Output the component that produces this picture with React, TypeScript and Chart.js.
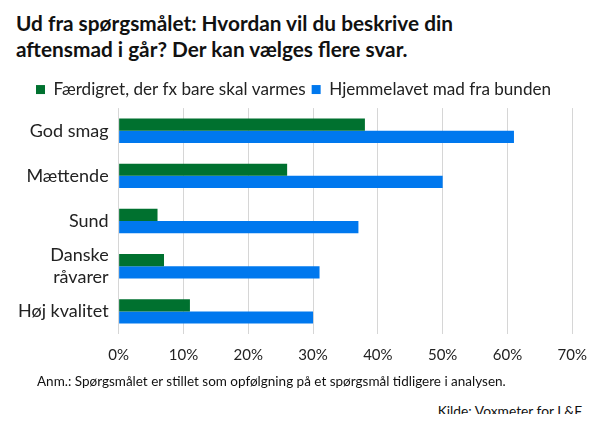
import React, { useEffect, useRef } from 'react';
import { Chart, registerables } from 'chart.js';

Chart.register(...registerables);

const categories: (string | string[])[] = ['God smag', 'Mættende', 'Sund', ['Danske', 'råvarer'], 'Høj kvalitet'];
const seriesNames = ['Færdigret, der fx bare skal varmes', 'Hjemmelavet mad fra bunden'];
const faerdigret = [38, 26, 6, 7, 11];
const hjemmelavet = [61, 50, 37, 31, 30];
const tickValues = [0, 10, 20, 30, 40, 50, 60, 70];

const FONT = 'Lato, "Open Sans", sans-serif';

const App: React.FC = () => {
  const canvasRef = useRef<HTMLCanvasElement>(null);

  useEffect(() => {
    if (!canvasRef.current) return;
    const chart = new Chart(canvasRef.current, {
      type: 'bar',
      data: {
        labels: categories,
        datasets: [
          { label: seriesNames[0], data: faerdigret, backgroundColor: '#00712f', categoryPercentage: 0.54, barPercentage: 1 },
          { label: seriesNames[1], data: hjemmelavet, backgroundColor: '#0078ee', categoryPercentage: 0.54, barPercentage: 1 }
        ]
      },
      options: {
        indexAxis: 'y',
        animation: false,
        responsive: false,
        layout: { padding: { left: 8, right: 20, top: 4, bottom: 0 } },
        plugins: {
          tooltip: { enabled: false },
          legend: {
            position: 'top',
            labels: {
              boxWidth: 9,
              boxHeight: 9,
              padding: 6,
              color: '#222',
              font: { family: FONT, size: 17.1 }
            }
          }
        },
        scales: {
          x: {
            min: 0,
            max: 70,
            afterBuildTicks: axis => { axis.ticks = tickValues.map(v => ({ value: v })); },
            grid: { color: '#d6d6d6', drawTicks: false },
            border: { display: false },
            ticks: { color: '#222', padding: 12, font: { family: FONT, size: 15 }, callback: v => v + '%' }
          },
          y: {
            grid: { display: false, drawTicks: false },
            border: { display: false },
            ticks: { color: '#222', padding: 10, autoSkip: false, font: { family: FONT, size: 18 } }
          }
        }
      }
    });
    return () => chart.destroy();
  }, []);

  return (
    <div style={{ position: 'relative', width: 599, height: 422, background: '#fff', fontFamily: FONT, color: '#111', margin: -8 }}>
      <div style={{ position: 'absolute', left: 16, top: 10, fontWeight: 700, fontSize: 20.8, lineHeight: '26px' }}>
        Ud fra spørgsmålet: Hvordan vil du beskrive din<br />aftensmad i går? Der kan vælges flere svar.
      </div>
      <canvas ref={canvasRef} width={599} height={305} style={{ position: 'absolute', left: 0, top: 71 }} />
      <div style={{ position: 'absolute', left: 37, top: 373, fontSize: 13.5 }}>
        Anm.: Spørgsmålet er stillet som opfølgning på et spørgsmål tidligere i analysen.
      </div>
      <div style={{ position: 'absolute', right: 17, top: 402, fontSize: 13.8 }}>
        Kilde: Voxmeter for L&amp;F
      </div>
    </div>
  );
};

export default App;
